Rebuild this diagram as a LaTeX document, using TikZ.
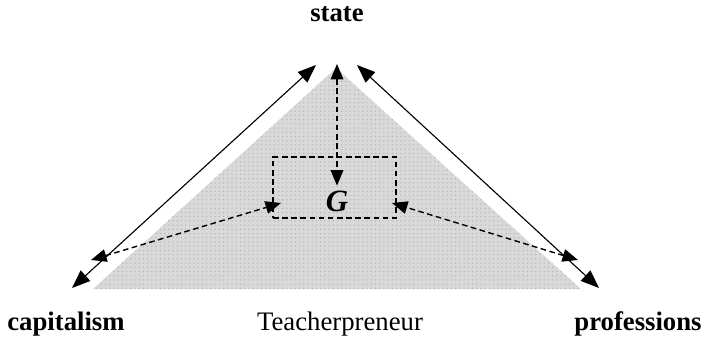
\documentclass[tikz,border=0pt]{standalone}
\usepackage{fontspec}
\setmainfont{Liberation Serif}
\usetikzlibrary{arrows.meta,patterns}
\tikzset{
  solidarrow/.style={{Triangle[length=13pt,width=10pt]}-{Triangle[length=13pt,width=10pt]}, line width=0.8pt},
  dasharrow/.style={{Triangle[length=11pt,width=9pt]}-{Triangle[length=11pt,width=9pt]}, dash pattern=on 4pt off 2.5pt, line width=1pt},
  label/.style={font=\fontsize{19}{22}\selectfont\bfseries}
}
\begin{document}
\begin{tikzpicture}[x=0.025cm,y=-0.025cm]
\useasboundingbox (0,0) rectangle (707,339);
\fill[gray!30] (93,289) -- (336,68) -- (581,289) -- cycle;
\fill[pattern=dots, pattern color=gray!60] (93,289) -- (336,68) -- (581,289) -- cycle;
\node[label] (state) at (337,14) {state};
\node[label] (capitalism) at (66,324) {capitalism};
\node[font=\fontsize{19}{22}\selectfont] (teacher) at (340,324) {Teacherpreneur};
\node[label] (professions) at (638,324) {professions};
\node[draw, dash pattern=on 4pt off 2.5pt, line width=1pt, minimum width=123*0.025cm, minimum height=61*0.025cm] (gbox) at (334.5,187.5) {};
\node[font=\fontsize{22}{24}\selectfont\bfseries\itshape] (G) at (337,201) {G};
% end points of the arrows
\coordinate (capL) at (72,288);
\coordinate (stateL) at (316,65);
\coordinate (stateR) at (357,65);
\coordinate (profR) at (599,288);
\coordinate (stateC) at (337,64);
\coordinate (capD) at (91,260);
\coordinate (profD) at (578,260);
\draw[solidarrow] (capL) -- (stateL);
\draw[solidarrow] (stateR) -- (profR);
\draw[dasharrow] (stateC) -- (G.north);
\draw[dasharrow] (capD) -- (281,203);
\draw[dasharrow] (profD) -- (392,203);
\end{tikzpicture}
\end{document}
